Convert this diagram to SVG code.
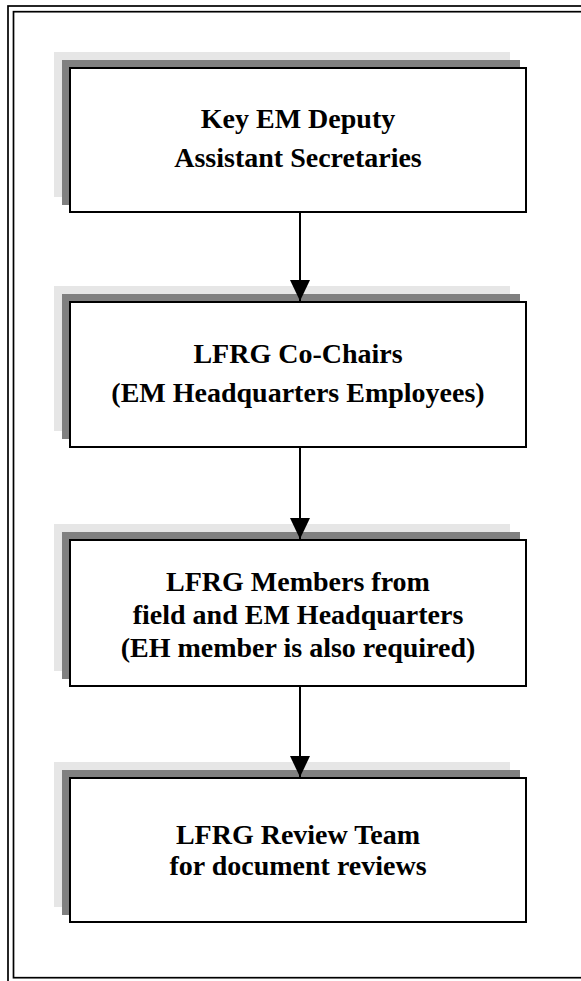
<svg xmlns="http://www.w3.org/2000/svg" width="581" height="981" viewBox="0 0 581 981">
<defs>
<style>
.frame{fill:none;stroke:#000;stroke-width:1.7}
.sh1{fill:#e6e6e6}
.sh2{fill:#808080}
.box{fill:#fff;stroke:#000;stroke-width:2}
.t{font-family:"Liberation Serif","Times New Roman",serif;font-weight:bold;font-size:28px;text-anchor:middle;fill:#000}
.conn{stroke:#000;stroke-width:2;fill:none}
</style>
<marker id="ah" markerUnits="userSpaceOnUse" markerWidth="22" markerHeight="20" refX="21" refY="10" orient="auto">
<path d="M0,0 L21,10 L0,20 Z" fill="#000"/>
</marker>
</defs>
<rect width="581" height="981" fill="#fff"/>
<rect class="frame" x="8" y="6" width="620" height="1000"/>
<rect class="frame" x="13.5" y="11.7" width="620" height="966"/>
<g id="node1">
<rect class="sh1" x="54" y="52" width="456" height="145"/>
<rect class="sh2" x="62" y="60" width="458" height="145"/>
<rect class="box" x="70" y="68" width="456" height="144"/>
<text class="t" x="298" y="128">Key EM Deputy</text>
<text class="t" x="298" y="167">Assistant Secretaries</text>
</g>
<g id="node2">
<rect class="sh1" x="54" y="286" width="456" height="145"/>
<rect class="sh2" x="62" y="294" width="458" height="145"/>
<rect class="box" x="70" y="302" width="456" height="145"/>
<text class="t" x="298" y="363">LFRG Co-Chairs</text>
<text class="t" x="298" y="402">(EM Headquarters Employees)</text>
</g>
<g id="node3">
<rect class="sh1" x="54" y="524" width="456" height="147"/>
<rect class="sh2" x="62" y="532" width="458" height="147"/>
<rect class="box" x="70" y="540" width="456" height="146"/>
<text class="t" x="298" y="591">LFRG Members from</text>
<text class="t" x="298" y="624">field and EM Headquarters</text>
<text class="t" x="298" y="657">(EH member is also required)</text>
</g>
<g id="node4">
<rect class="sh1" x="54" y="762" width="456" height="145"/>
<rect class="sh2" x="62" y="770" width="458" height="145"/>
<rect class="box" x="70" y="778" width="456" height="144"/>
<text class="t" x="298" y="844">LFRG Review Team</text>
<text class="t" x="298" y="875">for document reviews</text>
</g>
<g id="connectors">
<line class="conn" x1="300" y1="213" x2="300" y2="301" marker-end="url(#ah)"/>
<line class="conn" x1="300" y1="448" x2="300" y2="539" marker-end="url(#ah)"/>
<line class="conn" x1="300" y1="687" x2="300" y2="777" marker-end="url(#ah)"/>
</g>
</svg>
